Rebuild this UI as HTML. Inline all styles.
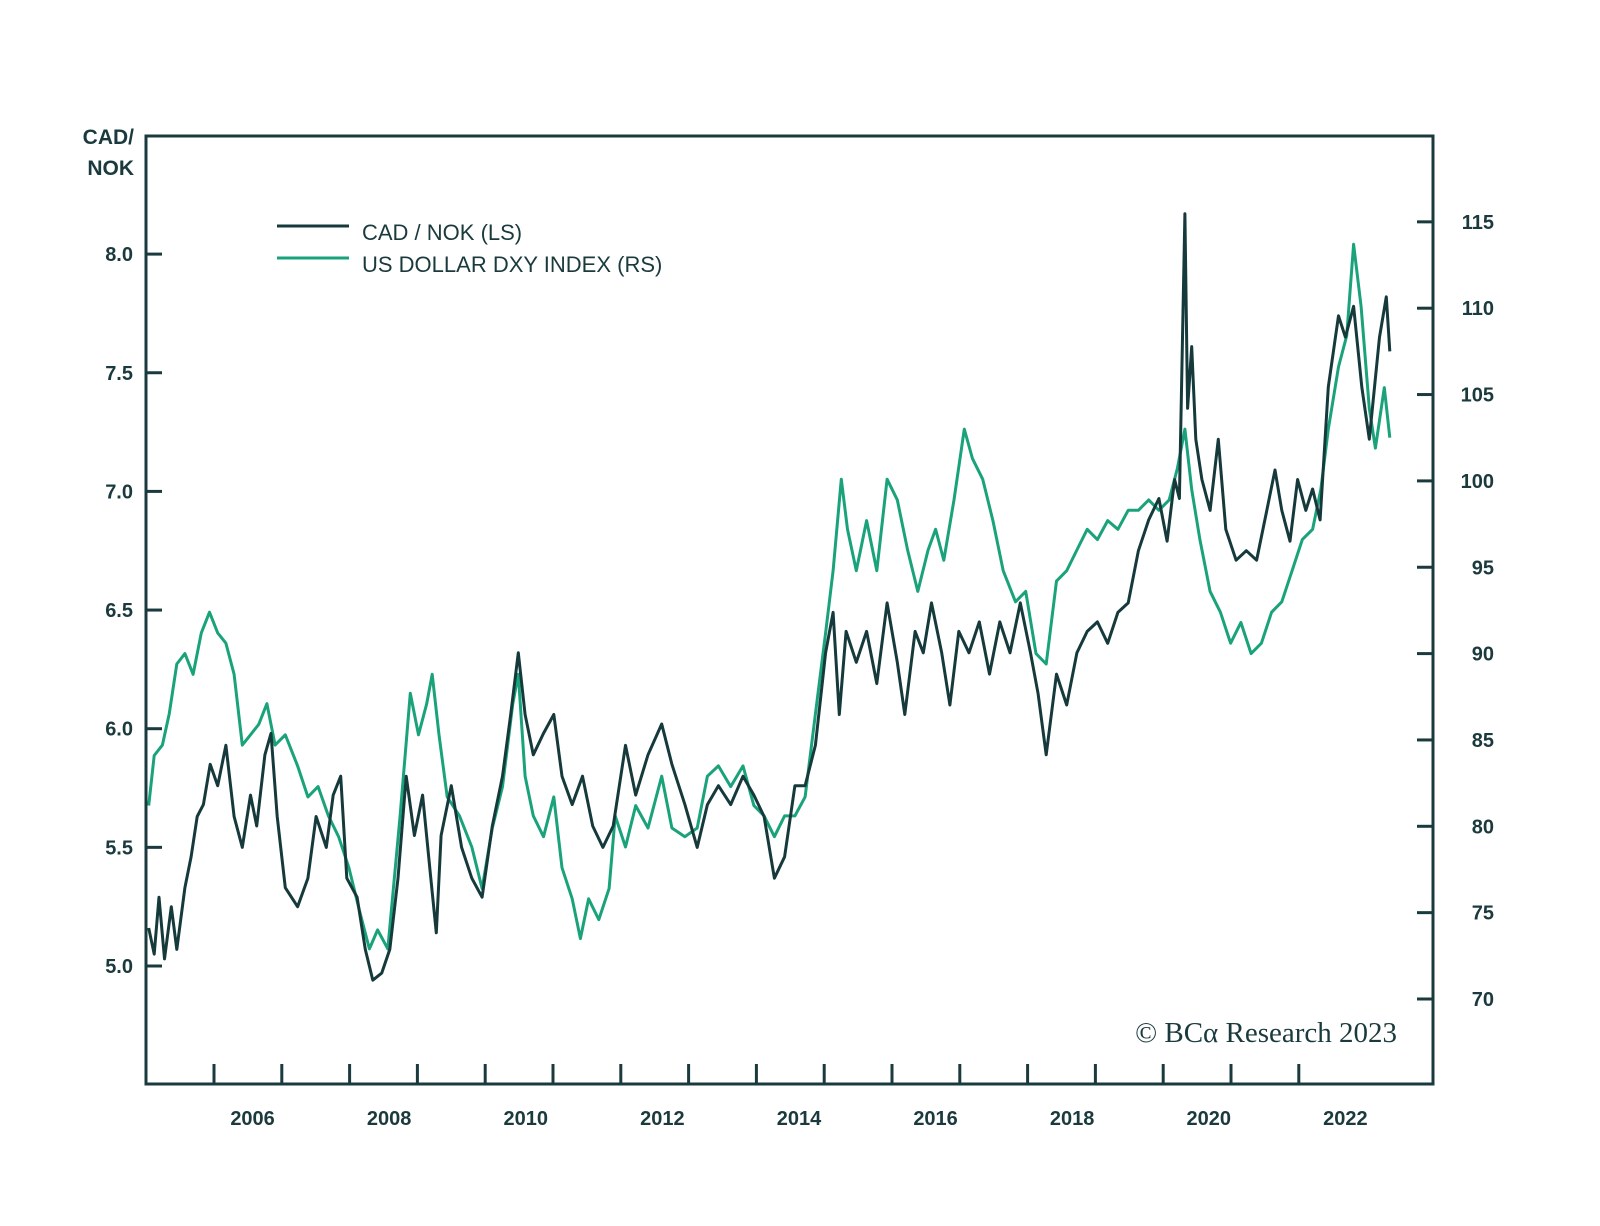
<!DOCTYPE html>
<html><head><meta charset="utf-8"><style>
html,body{margin:0;padding:0;background:#fff;}
svg{display:block;}
text{font-family:"Liberation Sans",sans-serif;fill:#1b3a3d;font-weight:bold;}
</style></head><body>
<svg id="chart" width="1600" height="1226" viewBox="0 0 1600 1226" xmlns="http://www.w3.org/2000/svg">
<rect x="0" y="0" width="1600" height="1226" fill="#fff"/>
<g id="series"></g>
<rect x="146" y="136" width="1287" height="948" fill="none" stroke="#1b3a3d" stroke-width="3"/>
<g id="axes"></g>
<text x="134" y="144" text-anchor="end" font-size="21">CAD/</text>
<text x="134" y="175" text-anchor="end" font-size="21">NOK</text>
<g>
<line x1="277" y1="226" x2="349" y2="226" stroke="#163a3c" stroke-width="3"/>
<text x="362" y="240" font-size="22" style="font-weight:normal">CAD / NOK (LS)</text>
<line x1="277" y1="258" x2="349" y2="258" stroke="#1aa37b" stroke-width="3"/>
<text x="362" y="272" font-size="22" style="font-weight:normal">US DOLLAR DXY INDEX (RS)</text>
</g>
<text x="1397" y="1042" text-anchor="end" font-size="29" style="font-family:'Liberation Serif',serif;font-weight:normal">© BCα Research 2023</text>
</svg>
<script>
const cadDates=[2005.03,2005.11,2005.18,2005.26,2005.36,2005.44,2005.56,2005.65,2005.74,2005.83,2005.93,2006.04,2006.16,2006.28,2006.40,2006.52,2006.61,2006.73,2006.82,2006.91,2007.03,2007.21,2007.36,2007.48,2007.63,2007.73,2007.84,2007.93,2008.08,2008.20,2008.31,2008.44,2008.56,2008.68,2008.80,2008.92,2009.04,2009.16,2009.24,2009.31,2009.46,2009.61,2009.76,2009.91,2010.06,2010.21,2010.33,2010.44,2010.54,2010.66,2010.81,2010.96,2011.08,2011.23,2011.38,2011.53,2011.68,2011.83,2012.01,2012.16,2012.34,2012.54,2012.69,2012.88,2013.06,2013.21,2013.37,2013.55,2013.73,2013.89,2014.04,2014.19,2014.34,2014.49,2014.64,2014.79,2014.94,2015.05,2015.14,2015.24,2015.39,2015.54,2015.69,2015.84,2015.99,2016.10,2016.25,2016.37,2016.49,2016.64,2016.76,2016.89,2017.04,2017.19,2017.34,2017.49,2017.64,2017.79,2017.94,2018.05,2018.17,2018.32,2018.47,2018.62,2018.77,2018.92,2019.07,2019.22,2019.37,2019.52,2019.67,2019.82,2019.94,2020.05,2020.12,2020.20,2020.24,2020.30,2020.36,2020.45,2020.57,2020.69,2020.80,2020.95,2021.10,2021.25,2021.40,2021.52,2021.62,2021.74,2021.85,2021.97,2022.07,2022.18,2022.30,2022.45,2022.55,2022.67,2022.79,2022.90,2023.05,2023.15,2023.20];
const cadValues=[5.16,5.05,5.29,5.03,5.25,5.07,5.33,5.46,5.63,5.68,5.85,5.76,5.93,5.63,5.50,5.72,5.59,5.89,5.98,5.63,5.33,5.25,5.37,5.63,5.50,5.72,5.80,5.37,5.29,5.07,4.94,4.97,5.07,5.37,5.80,5.55,5.72,5.37,5.14,5.55,5.76,5.50,5.37,5.29,5.59,5.80,6.06,6.32,6.06,5.89,5.98,6.06,5.80,5.68,5.80,5.59,5.50,5.59,5.93,5.72,5.89,6.02,5.85,5.68,5.50,5.68,5.76,5.68,5.80,5.72,5.63,5.37,5.46,5.76,5.76,5.93,6.32,6.49,6.06,6.41,6.28,6.41,6.19,6.53,6.28,6.06,6.41,6.32,6.53,6.32,6.10,6.41,6.32,6.45,6.23,6.45,6.32,6.53,6.32,6.15,5.89,6.23,6.10,6.32,6.41,6.45,6.36,6.49,6.53,6.75,6.88,6.97,6.79,7.05,6.97,8.17,7.35,7.61,7.22,7.05,6.92,7.22,6.84,6.71,6.75,6.71,6.92,7.09,6.92,6.79,7.05,6.92,7.01,6.88,7.44,7.74,7.65,7.78,7.44,7.22,7.65,7.82,7.59];
const dxyDates=[2005.03,2005.11,2005.23,2005.33,2005.44,2005.56,2005.68,2005.80,2005.92,2006.04,2006.16,2006.28,2006.40,2006.52,2006.64,2006.76,2006.88,2007.03,2007.21,2007.36,2007.51,2007.66,2007.81,2007.96,2008.11,2008.26,2008.38,2008.53,2008.71,2008.86,2008.98,2009.10,2009.18,2009.28,2009.40,2009.58,2009.76,2009.91,2010.06,2010.21,2010.36,2010.44,2010.54,2010.66,2010.81,2010.96,2011.08,2011.23,2011.35,2011.47,2011.62,2011.77,2011.86,2012.01,2012.16,2012.34,2012.54,2012.69,2012.88,2013.06,2013.21,2013.37,2013.55,2013.73,2013.89,2014.04,2014.19,2014.34,2014.49,2014.64,2014.79,2014.94,2015.05,2015.17,2015.26,2015.39,2015.54,2015.69,2015.84,2015.99,2016.14,2016.29,2016.44,2016.55,2016.67,2016.82,2016.97,2017.09,2017.24,2017.39,2017.54,2017.72,2017.87,2018.02,2018.17,2018.32,2018.47,2018.62,2018.77,2018.92,2019.07,2019.22,2019.37,2019.52,2019.67,2019.82,2019.97,2020.09,2020.20,2020.30,2020.42,2020.57,2020.72,2020.87,2021.02,2021.17,2021.32,2021.47,2021.62,2021.77,2021.92,2022.07,2022.19,2022.30,2022.45,2022.57,2022.67,2022.78,2022.90,2022.99,2023.12,2023.20];
const dxyValues=[81.2,84.1,84.7,86.5,89.4,90.0,88.8,91.2,92.4,91.2,90.6,88.8,84.7,85.3,85.9,87.1,84.7,85.3,83.5,81.7,82.3,80.6,79.4,77.6,75.2,72.9,74.0,72.9,80.6,87.7,85.3,87.1,88.8,85.3,81.7,80.6,78.8,76.4,79.9,82.3,87.1,88.8,82.9,80.6,79.4,81.7,77.6,75.8,73.5,75.8,74.6,76.4,80.6,78.8,81.2,79.9,82.9,79.9,79.4,79.9,82.9,83.5,82.3,83.5,81.2,80.6,79.4,80.6,80.6,81.7,86.5,91.2,94.8,100.1,97.2,94.8,97.7,94.8,100.1,98.9,96.0,93.6,96.0,97.2,95.4,98.9,103.0,101.3,100.1,97.7,94.8,93.0,93.6,90.0,89.4,94.2,94.8,96.0,97.2,96.6,97.7,97.2,98.3,98.3,98.9,98.3,98.9,100.7,103.0,99.5,96.6,93.6,92.4,90.6,91.8,90.0,90.6,92.4,93.0,94.8,96.6,97.2,99.5,103.0,106.6,108.4,113.7,110.1,104.2,101.9,105.4,102.5];
const leftTicks=[5.0,5.5,6.0,6.5,7.0,7.5,8.0];
const rightTicks=[70,75,80,85,90,95,100,105,110,115];
const yearTicks=[2006,2007,2008,2009,2010,2011,2012,2013,2014,2015,2016,2017,2018,2019,2020,2021,2022];
const yearLabels=[2006,2008,2010,2012,2014,2016,2018,2020,2022];

const NS='http://www.w3.org/2000/svg';
function xS(t){return 215+(t-2006)*68.3;}
function xT(t){return 214+(t-2006)*67.8;}
function yL(v){return 966-(v-5)*237.3;}
function yR(v){return 999-(v-70)*17.27;}
function mk(tag,attrs,parent){const e=document.createElementNS(NS,tag);for(const k in attrs)e.setAttribute(k,attrs[k]);parent.appendChild(e);return e;}
const axes=document.getElementById('axes');
const series=document.getElementById('series');
leftTicks.forEach(v=>{
  const l=mk('line',{x1:146,x2:162,y1:yL(v),y2:yL(v),stroke:'#1b3a3d','stroke-width':3},axes);
  
  
  const t=mk('text',{x:133,y:yL(v)+7,'text-anchor':'end','font-size':20},axes);
  t.textContent=v.toFixed(1);
  
  
});
rightTicks.forEach(v=>{
  const l=mk('line',{x1:1417,x2:1433,y1:yR(v),y2:yR(v),stroke:'#1b3a3d','stroke-width':3},axes);
  
  
  const t=mk('text',{x:1494,y:yR(v)+7,'text-anchor':'end','font-size':20},axes);
  t.textContent=String(v);
  
  
});
yearTicks.forEach(y=>{
  const l=mk('line',{x1:xT(y),x2:xT(y),y1:1064,y2:1084,stroke:'#1b3a3d','stroke-width':3},axes);
  
  
});
yearLabels.forEach(y=>{
  const t=mk('text',{x:xS(y+0.55),y:1125,'text-anchor':'middle','font-size':20},axes);
  t.textContent=String(y);
  
  
});
function path(dates,vals,ys){return dates.map((d,i)=>(i?'L':'M')+xS(d).toFixed(1)+','+ys(vals[i]).toFixed(1)).join('');}
const g=mk('path',{d:path(dxyDates,dxyValues,yR),fill:'none',stroke:'#1aa37b','stroke-width':3,'stroke-linejoin':'round'},series);


const c=mk('path',{d:path(cadDates,cadValues,yL),fill:'none',stroke:'#163a3c','stroke-width':3,'stroke-linejoin':'round'},series);


</script>
</body></html>
